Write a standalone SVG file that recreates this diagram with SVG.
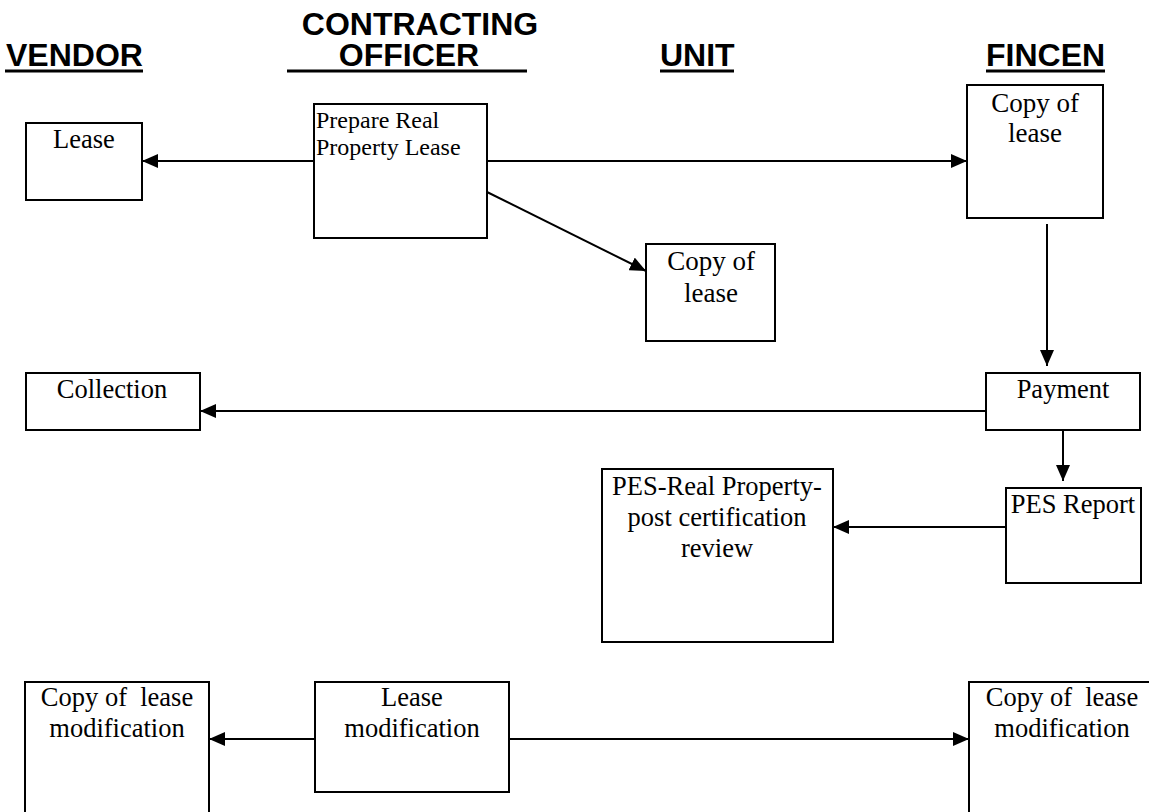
<svg xmlns="http://www.w3.org/2000/svg" width="1149" height="812" viewBox="0 0 1149 812">
<style>
.hdr{font-family:"Liberation Sans",Arial,sans-serif;font-weight:bold;font-size:32px;fill:#000}
.ul{stroke:#000;stroke-width:3}
.box{fill:#fff;stroke:#000;stroke-width:2}
.t{font-family:"Liberation Serif","Times New Roman",serif;fill:#000;text-anchor:middle;font-size:26.5px}
.tl{font-family:"Liberation Serif","Times New Roman",serif;fill:#000;font-size:24px}
.c{stroke:#000;stroke-width:2;fill:none;marker-end:url(#ah)}
</style>
<defs>
<marker id="ah" markerUnits="userSpaceOnUse" markerWidth="16" markerHeight="14" refX="16" refY="7" orient="auto">
<path d="M0,0 L16,7 L0,14 Z" fill="#000"/>
</marker>
</defs>
<rect width="1149" height="812" fill="#fff"/>
<g id="headers">
<text class="hdr" x="6" y="66">VENDOR</text>
<line class="ul" x1="5" y1="71" x2="143" y2="71"/>
<text class="hdr" x="420" y="35" text-anchor="middle" font-size="31.5">CONTRACTING</text>
<text class="hdr" x="409" y="66" text-anchor="middle">OFFICER</text>
<line class="ul" x1="287" y1="71" x2="527" y2="71"/>
<text class="hdr" x="660" y="66">UNIT</text>
<line class="ul" x1="660" y1="71" x2="734" y2="71"/>
<text class="hdr" x="986" y="66">FINCEN</text>
<line class="ul" x1="986" y1="71" x2="1105" y2="71"/>
</g>
<g id="connectors">
<line class="c" x1="314" y1="161" x2="142" y2="161"/>
<line class="c" x1="487" y1="161" x2="967" y2="161"/>
<line class="c" x1="487" y1="192" x2="646" y2="271"/>
<line class="c" x1="1047" y1="224" x2="1047" y2="366"/>
<line class="c" x1="986" y1="411" x2="200" y2="411"/>
<line class="c" x1="1063" y1="430" x2="1063" y2="481"/>
<line class="c" x1="1006" y1="527" x2="833" y2="527"/>
<line class="c" x1="315" y1="739" x2="209" y2="739"/>
<line class="c" x1="509" y1="739" x2="969" y2="739"/>
</g>
<g id="lease">
<rect class="box" x="26" y="123" width="116" height="77"/>
<text class="t" x="84" y="148" font-size="26">Lease</text>
</g>
<g id="prepare">
<rect class="box" x="314" y="104" width="173" height="134"/>
<text class="tl" x="316" y="128">Prepare Real</text>
<text class="tl" x="316" y="155">Property Lease</text>
</g>
<g id="fincen-copy">
<rect class="box" x="967" y="85" width="136" height="133"/>
<text class="t" x="1035" y="112" style="font-size:27px">Copy of</text>
<text class="t" x="1035" y="142" style="font-size:27px">lease</text>
</g>
<g id="unit-copy">
<rect class="box" x="646" y="244" width="129" height="97"/>
<text class="t" x="711" y="270" style="font-size:27px">Copy of</text>
<text class="t" x="711" y="302" style="font-size:27px">lease</text>
</g>
<g id="collection">
<rect class="box" x="26" y="373" width="174" height="57"/>
<text class="t" x="112" y="398">Collection</text>
</g>
<g id="payment">
<rect class="box" x="986" y="373" width="154" height="57"/>
<text class="t" x="1063" y="398">Payment</text>
</g>
<g id="pes-report">
<rect class="box" x="1006" y="488" width="135" height="95"/>
<text class="t" x="1073" y="513">PES Report</text>
</g>
<g id="pes-real">
<rect class="box" x="602" y="469" width="231" height="173"/>
<text class="t" x="717" y="495">PES-Real Property-</text>
<text class="t" x="717" y="526">post certification</text>
<text class="t" x="717" y="557">review</text>
</g>
<g id="vendor-mod">
<rect class="box" x="25" y="682" width="184" height="140"/>
<text class="t" x="117" y="706" xml:space="preserve">Copy of  lease</text>
<text class="t" x="117" y="737">modification</text>
</g>
<g id="lease-mod">
<rect class="box" x="315" y="682" width="194" height="110"/>
<text class="t" x="412" y="706">Lease</text>
<text class="t" x="412" y="737">modification</text>
</g>
<g id="fincen-mod">
<rect class="box" x="969" y="682" width="200" height="140"/>
<text class="t" x="1062" y="706" xml:space="preserve">Copy of  lease</text>
<text class="t" x="1062" y="737">modification</text>
</g>
</svg>
